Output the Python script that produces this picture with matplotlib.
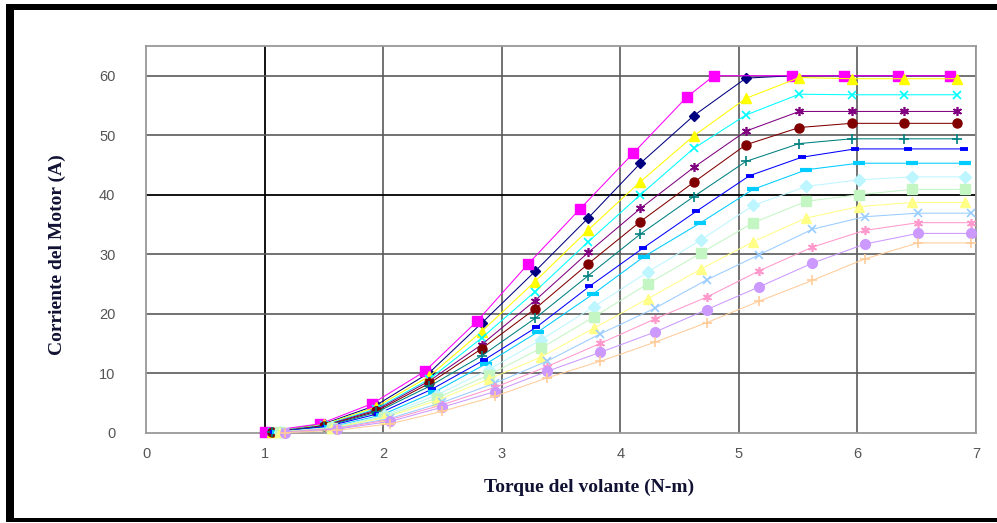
import matplotlib
matplotlib.use("Agg")
import matplotlib.pyplot as plt
from matplotlib.patches import Rectangle

# ---------------- data ----------------
x_magenta = [1.00, 1.47, 1.91, 2.35, 2.79, 3.22, 3.66, 4.11, 4.56, 4.79, 5.45, 5.89, 6.34, 6.78]
x_navy = [1.06, 1.50, 1.94, 2.39, 2.83, 3.28, 3.73, 4.17, 4.62, 5.06, 5.45, 5.89, 6.34, 6.78]
x_a = [1.06, 1.50, 1.94, 2.39, 2.83, 3.28, 3.73, 4.17, 4.62, 5.06, 5.51, 5.95, 6.39, 6.84]
x_b = [1.08, 1.52, 1.96, 2.41, 2.85, 3.29, 3.74, 4.19, 4.64, 5.09, 5.53, 5.98, 6.43, 6.90]
x_c = [1.11, 1.55, 1.99, 2.43, 2.87, 3.31, 3.77, 4.20, 4.67, 5.12, 5.57, 6.01, 6.46, 6.91]
x_d = [1.13, 1.57, 2.01, 2.45, 2.89, 3.33, 3.78, 4.23, 4.68, 5.12, 5.57, 6.01, 6.46, 6.91]
x_e = [1.17, 1.61, 2.06, 2.50, 2.94, 3.38, 3.83, 4.29, 4.73, 5.17, 5.62, 6.06, 6.51, 6.96]

y_navy = [0.1, 1.5, 4.6, 10.1, 18.4, 27.1, 36.1, 45.3, 53.3, 59.6, 60, 60, 60, 60]
y_magenta = [0.2, 1.5, 4.9, 10.3, 18.7, 28.3, 37.6, 47.0, 56.4, 60, 60, 60, 60, 60]
y_yellow = [0.1, 1.4, 4.3, 9.5, 17.0, 25.4, 34.1, 42.2, 49.9, 56.2, 59.7, 59.5, 59.5, 59.5]
y_cyan = [0.1, 1.3, 4.0, 9.0, 15.9, 23.7, 32.1, 40.0, 47.8, 53.4, 56.9, 56.8, 56.8, 56.8]
y_purple = [0.1, 1.2, 3.8, 8.7, 14.8, 22.2, 30.3, 37.7, 44.6, 50.7, 54.0, 54.0, 54.0, 54.0]
y_darkred = [0.1, 1.1, 3.6, 8.3, 14.1, 20.8, 28.4, 35.5, 42.1, 48.4, 51.3, 52.0, 52.0, 52.0]
y_teal = [0.1, 1.0, 3.4, 7.8, 12.9, 19.2, 26.4, 33.4, 39.7, 45.6, 48.6, 49.4, 49.4, 49.4]
y_blue = [0.1, 1.0, 3.2, 7.3, 12.2, 17.7, 24.6, 31.0, 37.2, 43.2, 46.3, 47.7, 47.7, 47.7]
y_skyblue = [0.1, 0.9, 3.0, 6.8, 11.6, 17.0, 23.3, 29.6, 35.2, 40.9, 44.2, 45.3, 45.3, 45.3]
y_lightcyan = [0.1, 0.9, 2.9, 6.3, 10.6, 15.6, 21.2, 27.0, 32.4, 38.2, 41.4, 42.5, 43.0, 43.0]
y_lightgreen = [0.1, 0.8, 2.7, 5.8, 9.7, 14.2, 19.5, 25.0, 30.2, 35.3, 38.9, 40.0, 40.9, 40.9]
y_lightyellow = [0.1, 0.8, 2.5, 5.4, 9.0, 12.7, 17.6, 22.5, 27.5, 32.1, 36.1, 38.0, 38.7, 38.7]
y_paleblue = [0.1, 0.8, 2.4, 5.1, 8.3, 12.0, 16.6, 20.9, 25.7, 29.9, 34.2, 36.3, 36.9, 36.9]
y_rose = [0.1, 0.7, 2.2, 4.7, 7.6, 11.1, 15.0, 19.1, 22.8, 27.2, 31.2, 34.0, 35.3, 35.3]
y_lavender = [0.0, 0.6, 1.9, 4.3, 6.9, 10.3, 13.5, 16.9, 20.7, 24.5, 28.5, 31.7, 33.5, 33.5]
y_tan = [0.0, 0.4, 1.5, 3.6, 6.1, 9.2, 12.0, 15.2, 18.5, 22.1, 25.6, 29.2, 31.9, 31.9]

x_ticks = [0, 1, 2, 3, 4, 5, 6, 7]
y_ticks = [0, 10, 20, 30, 40, 50, 60]
x_label = "Torque del volante (N-m)"
y_label = "Corriente del Motor (A)"

# ---------------- styles ----------------
star = (6, 2, 0)
series = [
    (x_navy, y_navy, "#000080", "D", 5.5, 1.0),
    (x_magenta, y_magenta, "#FF00FF", "s", 6.5, 1.0),
    (x_a, y_yellow, "#FFFF00", "^", 7, 1.0),
    (x_a, y_cyan, "#00FFFF", "x", 5.5, 1.2),
    (x_a, y_purple, "#800080", star, 6.5, 1.2),
    (x_a, y_darkred, "#800000", "o", 6.5, 1.0),
    (x_a, y_teal, "#008080", "+", 6.5, 1.2),
    (x_b, y_blue, "#0000FF", "_", 6, 2.8),
    (x_c, y_skyblue, "#00CCFF", "_", 9, 3.0),
    (x_d, y_lightcyan, "#BDF6FF", "D", 6, 1.0),
    (x_d, y_lightgreen, "#C4F6C4", "s", 7, 1.0),
    (x_d, y_lightyellow, "#FFFF88", "^", 7.5, 1.0),
    (x_e, y_paleblue, "#99CCFF", "x", 5.5, 1.2),
    (x_e, y_rose, "#FF99CC", star, 6.5, 1.2),
    (x_e, y_lavender, "#CC99FF", "o", 7, 1.0),
    (x_e, y_tan, "#FFCC99", "+", 6.5, 1.2),
]

fig = plt.figure(figsize=(9.97, 5.23), dpi=100)
ax = fig.add_axes([146 / 997, 1 - 432.7 / 523, 830 / 997, (432.7 - 46) / 523])

ax.set_xlim(0, 7)
ax.set_ylim(0, 65)
ax.set_xticks(x_ticks)
ax.set_yticks(y_ticks)

# grid lines
for xv in x_ticks[1:]:
    ax.axvline(xv, color="black" if xv == 1 else "#5a5a5a", lw=1.3 if xv == 1 else 1.2, zorder=1)
for yv in y_ticks[1:]:
    ax.axhline(yv, color="black" if yv == 40 else "#5a5a5a", lw=1.3 if yv == 40 else 1.2, zorder=1)

for xs, ys, c, m, ms, mew in series:
    ax.plot(xs, ys, color=c, lw=0.75, marker=m, markersize=ms,
            markerfacecolor=c, markeredgecolor=c, markeredgewidth=mew, zorder=3, clip_on=False)

for s in ax.spines.values():
    s.set_color("#999999")
    s.set_linewidth(1.3)

ax.tick_params(length=0, colors="#555555", labelsize=10.5)
ax.tick_params(axis="y", pad=22)
ax.tick_params(axis="x", pad=10)
for lab in ax.get_xticklabels() + ax.get_yticklabels():
    lab.set_family("Liberation Sans")

fig.text(589 / 997, 1 - 487 / 523, x_label, ha="center", va="center",
         family="Liberation Serif", weight="bold", fontsize=14, color="#111133")
fig.text(57 / 997, 1 - 255 / 523, y_label, ha="center", va="center", rotation=90,
         family="Liberation Serif", weight="bold", fontsize=14, color="#111133")

# outer black frame (left, top, bottom)
W, H = 997, 523
fig.add_artist(Rectangle((6 / W, 1 - 522 / H), 8 / W, 518 / H, transform=fig.transFigure,
                         color="black", lw=0))
fig.add_artist(Rectangle((6 / W, 1 - 10 / H), 991 / W, 6 / H, transform=fig.transFigure,
                         color="black", lw=0))
fig.add_artist(Rectangle((6 / W, 1 - 522 / H), 991 / W, 4 / H, transform=fig.transFigure,
                         color="black", lw=0))

fig.savefig("out.png", dpi=100)
